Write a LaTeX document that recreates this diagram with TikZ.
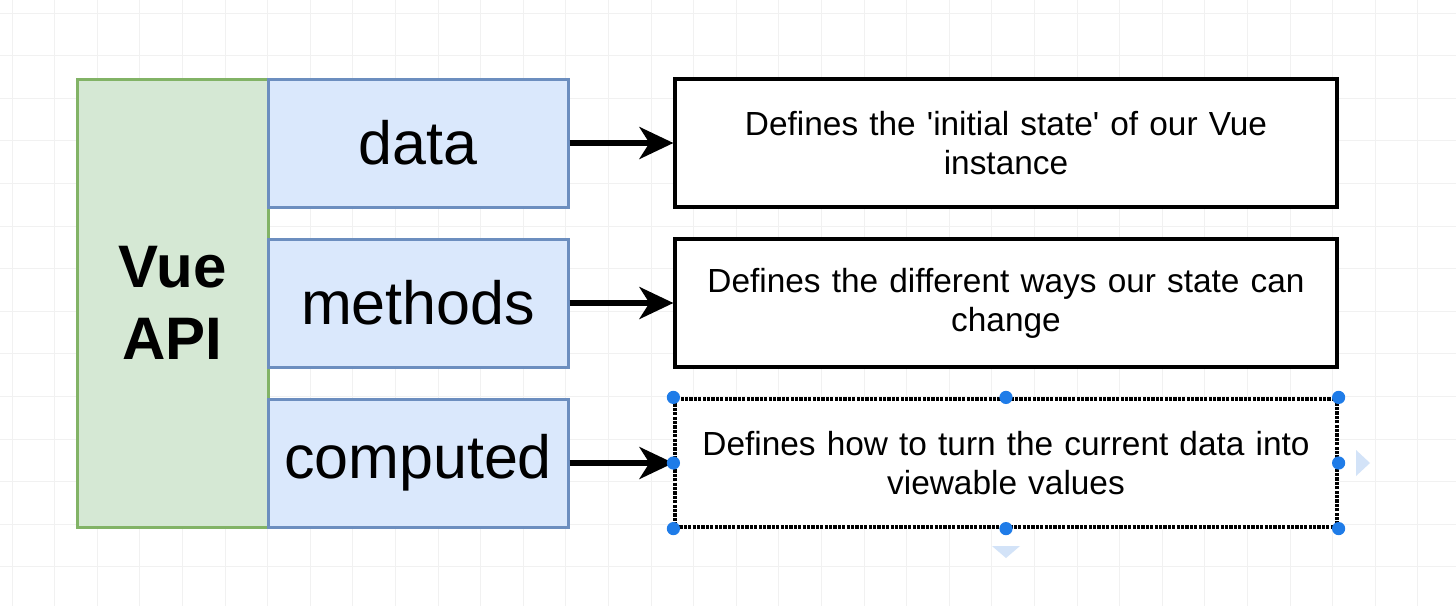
\documentclass[tikz,border=0pt]{standalone}
\usepackage{fontspec}
\setmainfont{Liberation Sans}
\usetikzlibrary{arrows.meta}
\definecolor{greenfill}{HTML}{D5E8D4}
\definecolor{greenline}{HTML}{82B366}
\definecolor{bluefill}{HTML}{DAE8FC}
\definecolor{blueline}{HTML}{6C8EBF}
\definecolor{handlec}{HTML}{1F7CE8}
\definecolor{gridc}{HTML}{F1F1F1}
\definecolor{hintc}{HTML}{D3E3F8}
\begin{document}
\begin{tikzpicture}[x=0.5pt,y=-0.5pt,
  apibox/.style={draw=greenline,fill=greenfill,line width=1.5pt,minimum width=95.5pt,minimum height=224pt,inner sep=0pt,
    font=\fontsize{30}{36}\selectfont\bfseries,align=center},
  keybox/.style={draw=blueline,fill=bluefill,line width=1.5pt,minimum width=150pt,minimum height=64pt,inner sep=0pt,
    font=\fontsize{30.5}{36}\selectfont},
  descbox/.style={draw=black,fill=white,line width=1.6pt,minimum width=331pt,minimum height=64pt,inner sep=0pt,
    text width=320pt,align=center,font=\fontsize{16.7}{19.5}\selectfont},
  selbox/.style={descbox,dash pattern=on 1.6pt off 0.6pt,line width=1.6pt},
  link/.style={line width=2.6pt,-{Stealth[length=17pt,width=16pt,inset=5pt]}},
  handle/.style={fill=handlec,draw=none},
  hint/.style={fill=hintc,draw=none}]
\useasboundingbox (0,0) rectangle (1456,606);
\fill[white] (0,0) rectangle (1456,606);
\foreach \i in {0,...,34} {\draw[gridc,line width=0.5pt] (12+\i*42.6,0) -- (12+\i*42.6,606);}
\foreach \i in {0,...,14} {\draw[gridc,line width=0.5pt] (0,13+\i*42.6) -- (1456,13+\i*42.6);}

\node[apibox] (api) at (172.5,303) {Vue\\API};
\node[keybox] (data) at (418,143) {data};
\node[keybox] (methods) at (418,303) {methods};
\node[keybox] (computed) at (418,463) {computed};

\node[descbox] (d1) at (1006,143) {Defines the \textquotesingle initial state\textquotesingle\ of our Vue\\instance};
\node[descbox] (d2) at (1006,303) {Defines the different ways our state can\\change};
\node[selbox] (d3) at (1006,463) {Defines how to turn the current data into\\viewable values};

\draw[link] (data.east) -- (d1.west);
\draw[link] (methods.east) -- (d2.west);
\draw[link] (computed.east) -- (d3.west);

\foreach \a in {north west,north,north east,west,east,south west,south,south east}
  {\fill[handle] (d3.\a) circle (3.3pt);}
\coordinate (hr) at (1356,463);
\coordinate (hd) at (1006,546);
\fill[hint] (hr) -- ++(0,-13) -- ++(14,13) -- ++(-14,13) -- cycle;
\fill[hint] (hd) -- ++(-14,0) -- ++(14,12) -- ++(14,-12) -- cycle;
\end{tikzpicture}
\end{document}
